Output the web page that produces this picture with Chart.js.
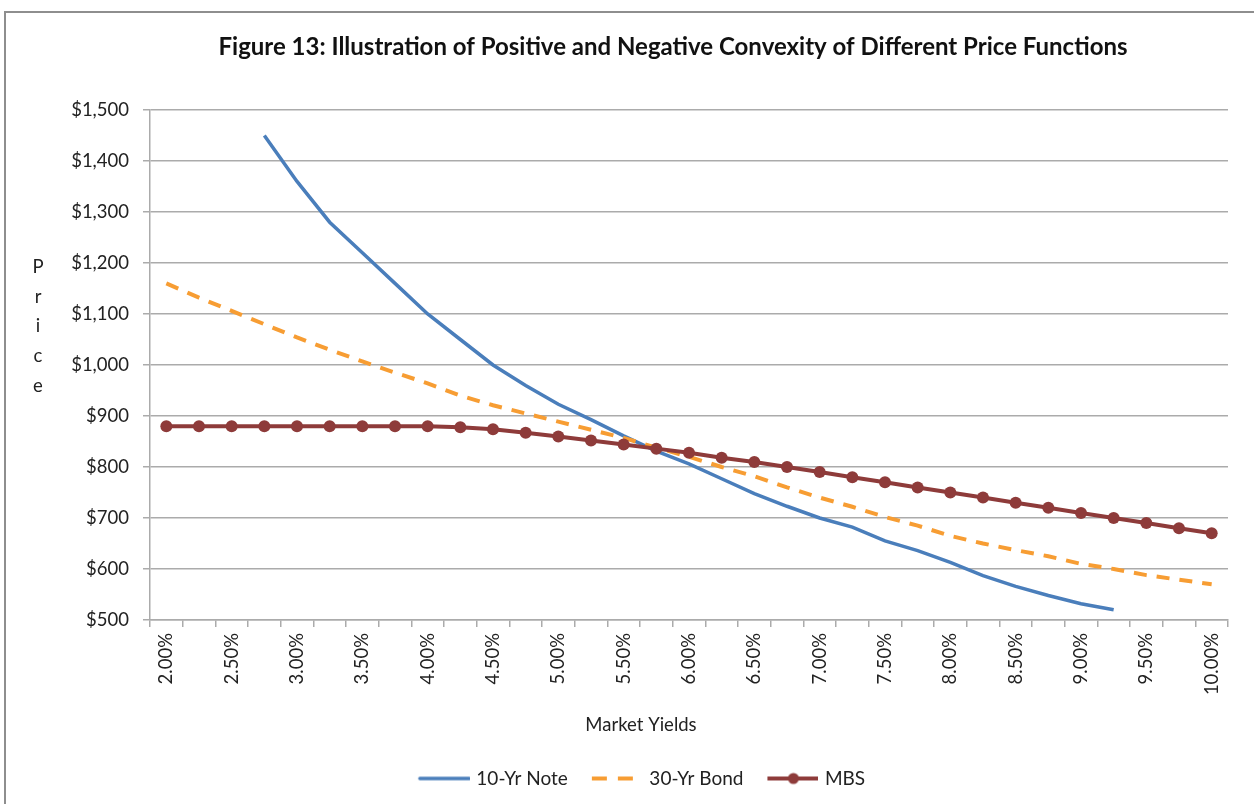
<!DOCTYPE html>
<html>
<head>
<meta charset="utf-8">
<script src="https://cdn.jsdelivr.net/npm/chart.js@4.4.0/dist/chart.umd.min.js"></script>
<style>
  html, body { margin: 0; padding: 0; background: #fff; overflow: hidden; }
  #wrap { position: relative; width: 1254px; height: 804px; }
  #frame { position: absolute; left: 4px; top: 11px; width: 1300px; height: 900px; border: 2px solid #8e8e8e; }
  #c { position: absolute; left: 0; top: 0; }
</style>
</head>
<body>
<div id="wrap">
  <div id="frame"></div>
  <canvas id="c" width="1254" height="804"></canvas>
</div>
<script>
// market yields, 2.00% .. 10.00% in 0.25% steps
const yields = ['2.00%', '2.25%', '2.50%', '2.75%', '3.00%', '3.25%', '3.50%', '3.75%', '4.00%',
  '4.25%', '4.50%', '4.75%', '5.00%', '5.25%', '5.50%', '5.75%', '6.00%', '6.25%', '6.50%',
  '6.75%', '7.00%', '7.25%', '7.50%', '7.75%', '8.00%', '8.25%', '8.50%', '8.75%', '9.00%',
  '9.25%', '9.50%', '9.75%', '10.00%'];

const note10 = [null, null, null, 1450, 1360, 1280, 1220, 1160, 1100, 1050, 1000, 960, 923,
  893, 861, 831, 806, 777, 748, 723, 700, 682, 655, 636, 613, 587, 566, 548, 532, 520,
  null, null, null];

const bond30 = [1160, 1132, 1106, 1080, 1054, 1030, 1007, 985, 964, 940, 921, 905, 889, 873,
  857, 838, 820, 800, 782, 760, 740, 722, 702, 685, 665, 650, 637, 625, 610, 600, 588, 579, 570];

const mbs = [880, 880, 880, 880, 880, 880, 880, 880, 880, 878, 874, 867, 860, 852, 844, 836,
  828, 818, 810, 800, 790, 780, 770, 760, 750, 740, 730, 720, 710, 700, 690, 680, 670];

const seriesNames = ['10-Yr Note', '30-Yr Bond', 'MBS'];
const titleText = 'Figure 13: Illustration of Positive and Negative Convexity of Different Price Functions';
const xTitle = 'Market Yields';
const yTitle = 'Price';

const BLUE = '#4a7ebb';
const ORANGE = '#f79d33';
const RED = '#8e3b3a';
const GRID = '#ababab';
const TXT = '#222222';
const FONT = 'Lato';

// legend icons (line samples) drawn on small canvases
function icon(draw) {
  const cv = document.createElement('canvas');
  cv.width = 68;
  cv.height = 14;
  const g = cv.getContext('2d');
  draw(g);
  return cv;
}
const icons = [
  icon((g) => {
    g.strokeStyle = BLUE; g.lineWidth = 3.5; g.lineCap = 'round';
    g.beginPath(); g.moveTo(18, 7); g.lineTo(67, 7); g.stroke();
  }),
  icon((g) => {
    g.strokeStyle = ORANGE; g.lineWidth = 4;
    g.beginPath(); g.moveTo(17, 7); g.lineTo(32, 7); g.moveTo(43, 7); g.lineTo(58, 7); g.stroke();
  }),
  icon((g) => {
    g.strokeStyle = RED; g.lineWidth = 4;
    g.beginPath(); g.moveTo(17, 7); g.lineTo(68, 7); g.stroke();
    g.fillStyle = RED;
    g.beginPath(); g.arc(43, 7, 5.5, 0, Math.PI * 2); g.fill();
  }),
];

const textPlugin = {
  id: 'texts',
  afterDraw(chart) {
    const ctx = chart.ctx;
    ctx.save();
    ctx.fillStyle = '#111';
    ctx.textAlign = 'center';
    ctx.textBaseline = 'middle';
    ctx.font = 'bold 24px ' + FONT;
    ctx.fillText(titleText, 673, 47);

    ctx.fillStyle = TXT;
    ctx.font = '18.5px ' + FONT;
    ctx.fillText(xTitle, 641, 725);

    ctx.textBaseline = 'alphabetic';
    yTitle.split('').forEach((ch, i) => {
      ctx.fillText(ch, 38, 273 + i * 29.7);
    });
    ctx.restore();
  },
};

const ctx = document.getElementById('c').getContext('2d');
const chart = new Chart(ctx, {
  type: 'line',
  data: {
    labels: yields,
    datasets: [
      {
        label: seriesNames[0], data: note10, borderColor: BLUE, backgroundColor: BLUE,
        borderWidth: 3.5, pointRadius: 0, tension: 0, order: 2,
      },
      {
        label: seriesNames[1], data: bond30, borderColor: ORANGE, backgroundColor: ORANGE,
        borderWidth: 4, borderDash: [13, 10], pointRadius: 0, tension: 0, order: 1,
      },
      {
        label: seriesNames[2], data: mbs, borderColor: RED, backgroundColor: RED,
        borderWidth: 4, pointRadius: 6, pointBackgroundColor: RED, pointBorderWidth: 0,
        tension: 0, order: 0,
      },
    ],
  },
  options: {
    responsive: false,
    animation: false,
    layout: { padding: { left: 42, right: 26, top: 110, bottom: 6 } },
    plugins: {
      title: { display: false },
      tooltip: { enabled: false },
      legend: {
        position: 'bottom',
        labels: {
          usePointStyle: true,
          pointStyleWidth: 62,
          padding: 10,
          color: TXT,
          font: { family: FONT, size: 19 },
          generateLabels(chart) {
            const items = Chart.defaults.plugins.legend.labels.generateLabels(chart);
            items.sort((a, b) => a.datasetIndex - b.datasetIndex);
            items.forEach((it) => { it.pointStyle = icons[it.datasetIndex]; });
            return items;
          },
        },
      },
    },
    scales: {
      x: {
        offset: true,
        afterFit(scale) { scale.height = 139; },
        grid: {
          display: true, drawOnChartArea: false, drawTicks: true, tickLength: 7,
          offset: true, color: GRID, lineWidth: 1.5,
        },
        border: { color: GRID, width: 1.5 },
        ticks: {
          autoSkip: false, minRotation: 90, maxRotation: 90, padding: 6, color: TXT,
          font: { family: FONT, size: 18.5 },
          callback: (v, i) => (i % 2 === 0 ? yields[i] : ''),
        },
      },
      y: {
        min: 500, max: 1500,
        afterFit(scale) { scale.width = 108; },
        grid: { color: GRID, lineWidth: 1.5, tickLength: 7 },
        border: { color: GRID, width: 1.5 },
        ticks: {
          stepSize: 100, padding: 14, color: TXT,
          font: { family: FONT, size: 18.5 },
          callback: (v) => '$' + v.toLocaleString('en-US'),
        },
      },
    },
  },
  plugins: [textPlugin],
});
</script>
</body>
</html>
